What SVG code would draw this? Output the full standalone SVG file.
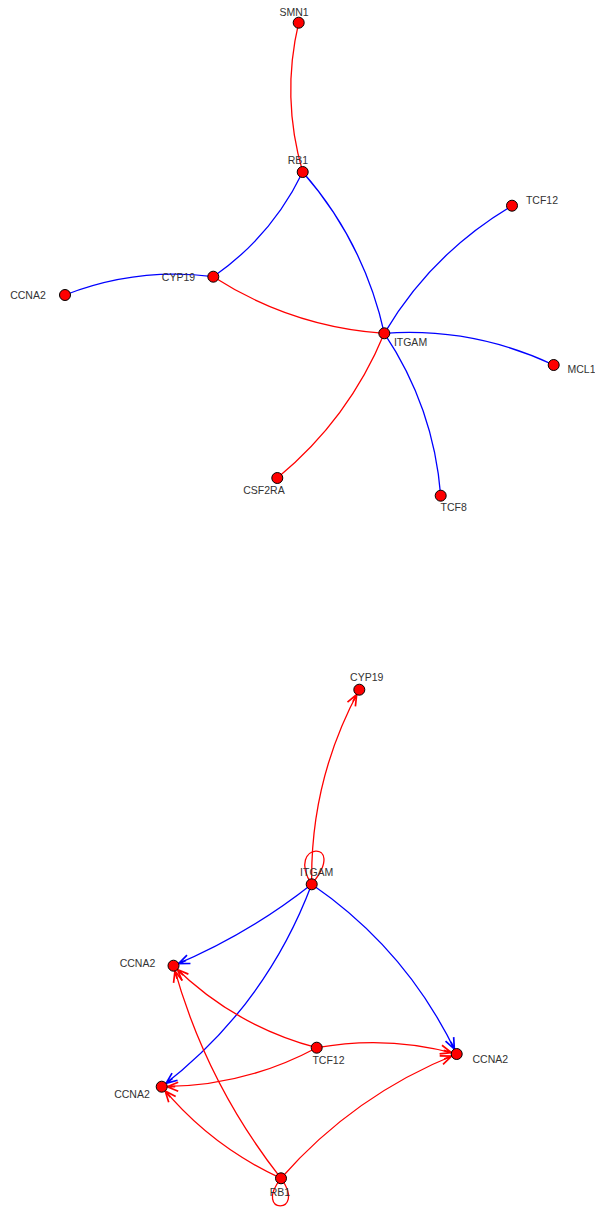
<svg xmlns="http://www.w3.org/2000/svg" width="595" height="1210" viewBox="0 0 595 1210">
  <defs>
    <style>
      .e { fill: none; stroke-width: 1.3; }
      .r { stroke: #ff0000; }
      .b { stroke: #0000ff; }
      .n circle { fill: #ff0000; stroke: #000; stroke-width: 1; }
      .n text { font-family: "Liberation Sans", Arial, sans-serif; font-size: 10.5px; fill: #333; text-anchor: middle; }
      .ar { marker-end: url(#arR); }
      .ab { marker-end: url(#arB); }
    </style>
    <!-- open chevron heads; tip sits on the target node's rim (r = 5.5) -->
    <marker id="arR" markerUnits="userSpaceOnUse" markerWidth="30" markerHeight="20" refX="20.5" refY="6" orient="auto" overflow="visible">
      <path d="M4,1.5 L15,6 L4,10.5 M7,6 L15,6" fill="none" stroke="#ff0000" stroke-width="1.7" stroke-linejoin="miter"/>
    </marker>
    <marker id="arB" markerUnits="userSpaceOnUse" markerWidth="30" markerHeight="20" refX="20.5" refY="6" orient="auto" overflow="visible">
      <path d="M4,1.5 L15,6 L4,10.5 M7,6 L15,6" fill="none" stroke="#0000ff" stroke-width="1.7" stroke-linejoin="miter"/>
    </marker>
  </defs>

  <rect width="595" height="1210" fill="#fff"/>

  <!-- upper network: undirected -->
  <g id="edges-top">
    <path class="e r" d="M298.7,22.7 Q281,97.5 302.7,172"/>
    <path class="e b" d="M302.7,172 Q271.7,236.2 213.3,276.7"/>
    <path class="e b" d="M302.7,172 Q364,242 384.3,333.3"/>
    <path class="e b" d="M213.3,276.7 Q136.7,267 65,295"/>
    <path class="e r" d="M213.3,276.7 Q291.4,326.9 384.3,333.3"/>
    <path class="e b" d="M384.3,333.3 Q431.7,253.2 512,205.7"/>
    <path class="e b" d="M384.3,333.3 Q473,327 553.7,365"/>
    <path class="e r" d="M384.3,333.3 Q349,419 277.3,478"/>
    <path class="e b" d="M384.3,333.3 Q433.7,407 440.7,495.7"/>
  </g>

  <!-- lower network: directed -->
  <g id="edges-bottom">
    <path class="e r ar" d="M311.7,884.3 Q310,780.6 359.3,689.7"/>
    <path class="e r" d="M311.7,884.3 C284,842 350,838 311.7,884.3"/>
    <path class="e b ab" d="M311.7,884.3 Q248.2,934.5 173.5,965.7"/>
    <path class="e b ab" d="M311.7,884.3 Q265.6,1006.9 161.7,1086.7"/>
    <path class="e b ab" d="M311.7,884.3 Q407,949.7 456.7,1054"/>
    <path class="e r ar" d="M316.7,1047.7 Q234.2,1025.8 173.5,965.7"/>
    <path class="e r ar" d="M316.7,1047.7 Q244.1,1086.6 161.7,1086.7"/>
    <path class="e r ar" d="M316.7,1047.7 Q387.4,1034.9 456.7,1054"/>
    <path class="e r ar" d="M281,1178.3 Q205.9,1082.8 173.5,965.7"/>
    <path class="e r ar" d="M281,1178.3 Q210.8,1146.3 161.7,1086.7"/>
    <path class="e r ar" d="M281,1178.3 Q353.9,1095 456.7,1054"/>
    <path class="e r" d="M281,1178.3 C252,1215 308,1215 281,1178.3"/>
  </g>

  <!-- nodes, upper network -->
  <g id="t-smn1" class="n"><circle cx="298.7" cy="22.7" r="5.5"/><text x="294" y="15.5">SMN1</text></g>
  <g id="t-rb1" class="n"><circle cx="302.7" cy="172" r="5.5"/><text x="298" y="164">RB1</text></g>
  <g id="t-cyp19" class="n"><circle cx="213.3" cy="276.7" r="5.5"/><text x="178.5" y="281">CYP19</text></g>
  <g id="t-ccna2" class="n"><circle cx="65" cy="295" r="5.5"/><text x="28" y="299">CCNA2</text></g>
  <g id="t-itgam" class="n"><circle cx="384.3" cy="333.3" r="5.5"/><text x="410.5" y="345.5">ITGAM</text></g>
  <g id="t-tcf12" class="n"><circle cx="512" cy="205.7" r="5.5"/><text x="542" y="204">TCF12</text></g>
  <g id="t-mcl1" class="n"><circle cx="553.7" cy="365" r="5.5"/><text x="581.5" y="373">MCL1</text></g>
  <g id="t-csf2ra" class="n"><circle cx="277.3" cy="478" r="5.5"/><text x="264" y="494">CSF2RA</text></g>
  <g id="t-tcf8" class="n"><circle cx="440.7" cy="495.7" r="5.5"/><text x="453.7" y="511">TCF8</text></g>

  <!-- nodes, lower network -->
  <g id="b-cyp19" class="n"><circle cx="359.3" cy="689.7" r="5.5"/><text x="366.7" y="681">CYP19</text></g>
  <g id="b-itgam" class="n"><circle cx="311.7" cy="884.3" r="5.5"/><text x="316.7" y="876">ITGAM</text></g>
  <g id="b-ccna2-a" class="n"><circle cx="173.5" cy="965.7" r="5.5"/><text x="137.5" y="967">CCNA2</text></g>
  <g id="b-ccna2-b" class="n"><circle cx="161.7" cy="1086.7" r="5.5"/><text x="132" y="1098">CCNA2</text></g>
  <g id="b-tcf12" class="n"><circle cx="316.7" cy="1047.7" r="5.5"/><text x="328.5" y="1064">TCF12</text></g>
  <g id="b-ccna2-c" class="n"><circle cx="456.7" cy="1054" r="5.5"/><text x="490.3" y="1063">CCNA2</text></g>
  <g id="b-rb1" class="n"><circle cx="281" cy="1178.3" r="5.5"/><text x="280" y="1195.5">RB1</text></g>
</svg>
